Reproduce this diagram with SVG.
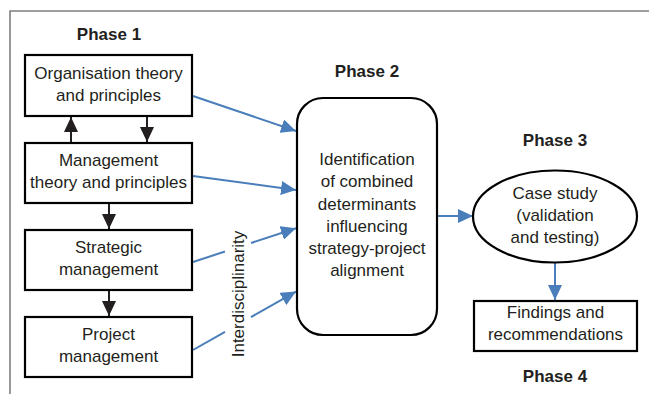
<svg xmlns="http://www.w3.org/2000/svg" width="649" height="394" viewBox="0 0 649 394">
<defs>
<style>
.t{font-family:"Liberation Sans",Arial,sans-serif;font-size:17px;fill:#231f20;text-anchor:middle}
.h{font-family:"Liberation Sans",Arial,sans-serif;font-size:17px;font-weight:bold;fill:#231f20;text-anchor:middle}
.box{fill:#fff;stroke:#000;stroke-width:2.2}
.blk{stroke:#231f20;stroke-width:2;fill:none}
.blu{stroke:#4a7ebb;stroke-width:2;fill:none}
</style>
<marker id="ab" markerUnits="userSpaceOnUse" markerWidth="16" markerHeight="14" refX="15" refY="7" orient="auto"><path d="M0,0 L15,7 L0,14 Z" fill="#231f20"/></marker>
<marker id="au" markerUnits="userSpaceOnUse" markerWidth="16" markerHeight="14" refX="15" refY="7" orient="auto"><path d="M0,0 L15,7 L0,14 Z" fill="#4a7ebb"/></marker>
</defs>
<rect width="649" height="394" fill="#fff"/>
<path d="M10,394 V11 H649" fill="none" stroke="#7f7f7f" stroke-width="1.6"/>

<text class="h" x="109" y="40">Phase 1</text>
<text class="h" x="367" y="77">Phase 2</text>
<text class="h" x="555" y="146">Phase 3</text>
<text class="h" x="555" y="382">Phase 4</text>

<g id="connectors">
<line class="blk" x1="71" y1="143" x2="71" y2="117" marker-end="url(#ab)"/>
<line class="blk" x1="147" y1="116" x2="147" y2="142" marker-end="url(#ab)"/>
<line class="blk" x1="109" y1="203" x2="109" y2="229" marker-end="url(#ab)"/>
<line class="blk" x1="109" y1="290" x2="109" y2="316" marker-end="url(#ab)"/>
<line class="blu" x1="193" y1="96" x2="296" y2="131" marker-end="url(#au)"/>
<line class="blu" x1="193" y1="176" x2="296" y2="190" marker-end="url(#au)"/>
<line class="blu" x1="193" y1="262" x2="225" y2="251.5"/>
<line class="blu" x1="251" y1="243" x2="296" y2="228.3" marker-end="url(#au)"/>
<line class="blu" x1="193" y1="350" x2="225" y2="331.8"/>
<line class="blu" x1="251" y1="317.1" x2="296" y2="291.6" marker-end="url(#au)"/>
<line class="blu" x1="437" y1="216" x2="473" y2="216" marker-end="url(#au)"/>
<line class="blu" x1="555" y1="262" x2="555" y2="300" marker-end="url(#au)"/>
<text class="t" transform="translate(244,294) rotate(-90)">Interdisciplinarity</text>
</g>

<g id="org">
<rect class="box" x="25" y="55" width="167" height="61"/>
<text class="t" x="108.5" y="79">Organisation theory</text>
<text class="t" x="108.5" y="101">and principles</text>
</g>
<g id="mgmt">
<rect class="box" x="25" y="143" width="167" height="60"/>
<text class="t" x="108.5" y="166">Management</text>
<text class="t" x="108.5" y="188">theory and principles</text>
</g>
<g id="strategic">
<rect class="box" x="25" y="230" width="167" height="60"/>
<text class="t" x="108.5" y="253">Strategic</text>
<text class="t" x="108.5" y="275">management</text>
</g>
<g id="project">
<rect class="box" x="25" y="317" width="167" height="60"/>
<text class="t" x="108.5" y="340">Project</text>
<text class="t" x="108.5" y="362">management</text>
</g>
<g id="phase2">
<rect class="box" x="297" y="98" width="140" height="237" rx="26" ry="26"/>
<text class="t" x="367" y="165">Identification</text>
<text class="t" x="367" y="187">of combined</text>
<text class="t" x="367" y="209.5">determinants</text>
<text class="t" x="367" y="232">influencing</text>
<text class="t" x="367" y="254">strategy-project</text>
<text class="t" x="367" y="276">alignment</text>
</g>
<g id="casestudy">
<ellipse class="box" cx="555" cy="216.5" rx="82" ry="46"/>
<text class="t" x="555" y="199">Case study</text>
<text class="t" x="555" y="221">(validation</text>
<text class="t" x="555" y="243">and testing)</text>
</g>
<g id="findings">
<rect class="box" x="474" y="301" width="163" height="50"/>
<text class="t" x="555.5" y="318">Findings and</text>
<text class="t" x="555.5" y="340">recommendations</text>
</g>
</svg>
